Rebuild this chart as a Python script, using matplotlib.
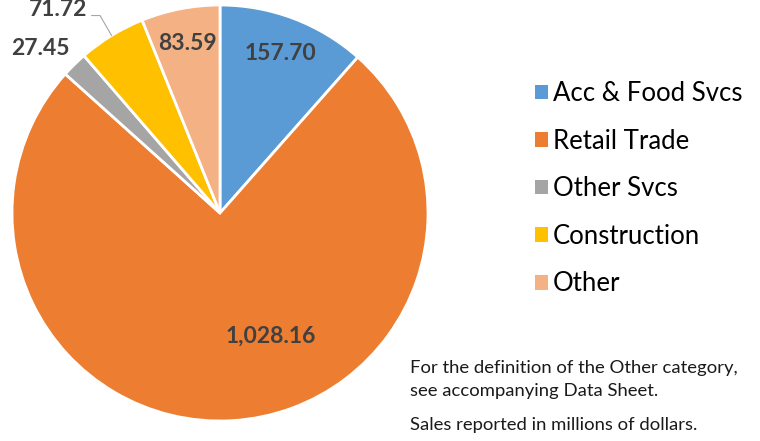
import numpy as np
import matplotlib.pyplot as plt
from matplotlib.patches import Patch

plt.rcParams['font.family'] = ['Lato', 'DejaVu Sans']

# sales by sector (millions of dollars)
sectors = ['Acc & Food Svcs', 'Retail Trade', 'Other Svcs', 'Construction', 'Other']
sales = [157.70, 1028.16, 27.45, 71.72, 83.59]
colors = ['#5B9BD5', '#ED7D31', '#A5A5A5', '#FFC000', '#F4B183']
value_labels = ['157.70', '1,028.16', '27.45', '71.72', '83.59']

fig = plt.figure(figsize=(7.6, 4.41), dpi=100)
ax = fig.add_axes([12 / 760, 20 / 441, 416 / 760, 416 / 441])

wedges, _ = ax.pie(sales, colors=colors, startangle=90, counterclock=False,
                   radius=1.0, wedgeprops=dict(edgecolor='white', linewidth=2))
ax.set_xlim(-1, 1)
ax.set_ylim(-1, 1)
ax.set_aspect('equal')

# label placement: (radius, angle offset from wedge middle)
place = [(0.82, 0), (0.64, 19), (1.17, 3), (1.25, 7), (0.83, 0)]
lab_kw = dict(fontsize=16.5, fontweight='bold', color='#404040', ha='center', va='center')
for i, w in enumerate(wedges):
    mid = np.deg2rad((w.theta1 + w.theta2) / 2)
    r, off = place[i]
    a = mid + np.deg2rad(off)
    tx, ty = r * np.cos(a), r * np.sin(a)
    ax.text(tx, ty, value_labels[i], clip_on=False, **lab_kw)
    if sectors[i] == 'Construction':
        ex, ey = np.cos(mid), np.sin(mid)
        ax.plot([tx + 0.16, tx + 0.20, ex], [ty - 0.03, ty - 0.03, ey],
                color='#A5A5A5', lw=0.8, clip_on=False)

handles = [Patch(facecolor=c, edgecolor='none') for c in colors]
fig.legend(handles, sectors, loc='upper left', bbox_to_anchor=(535 / 760, 1 - 81 / 441),
           frameon=False, fontsize=18.5, handlelength=0.5, handleheight=0.5,
           handletextpad=0.2, labelspacing=0.88, borderpad=0, borderaxespad=0)

note_kw = dict(fontsize=13.3, va='center', color='#1a1a1a')
fig.text(410 / 760, 1 - 368 / 441, 'For the definition of the Other category,', **note_kw)
fig.text(410 / 760, 1 - 391 / 441, 'see accompanying Data Sheet.', **note_kw)
fig.text(410 / 760, 1 - 425 / 441, 'Sales reported in millions of dollars.', **note_kw)

fig.savefig('out.png', dpi=100)
